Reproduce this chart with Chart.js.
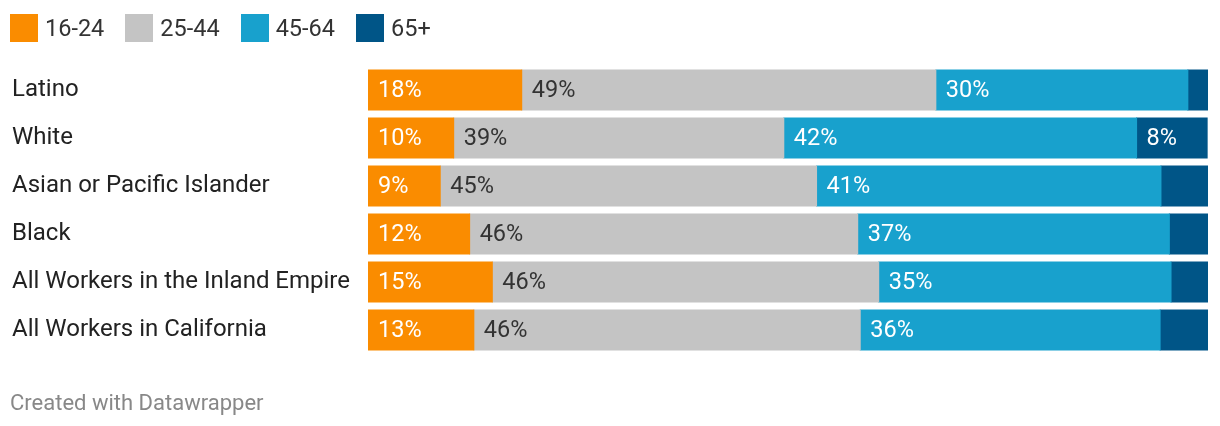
<!DOCTYPE html>
<html>
<head>
<meta charset="utf-8">
<script src="https://cdn.jsdelivr.net/npm/chart.js@4"></script>
<style>
  body { margin: 0; background: #fff; font-family: Roboto, "Noto Sans", sans-serif; }
  #wrap { position: relative; width: 1220px; height: 426px; }
  #chart { position: absolute; left: 0; top: 0; }
  #legend { position: absolute; left: 10px; top: 14px; display: flex; align-items: center; }
  .item { display: flex; align-items: center; margin-right: 21px; font-size: 23.5px; color: #333; line-height: 28px; }
  .swatch { width: 28px; height: 28px; margin-right: 7px; }
  #footer { position: absolute; left: 10px; top: 392px; font-size: 22px; line-height: 22px; color: #888; }
</style>
</head>
<body>
<div id="wrap">
  <canvas id="chart" width="1220" height="426"></canvas>
  <div id="legend"></div>
  <div id="footer">Created with Datawrapper</div>
</div>
<script>
const categories = [
  "Latino",
  "White",
  "Asian or Pacific Islander",
  "Black",
  "All Workers in the Inland Empire",
  "All Workers in California",
];
const seriesNames = ["16-24", "25-44", "45-64", "65+"];
const age16to24 = [18.3, 10.2, 8.6, 12.1, 14.8, 12.6];
const age25to44 = [49.3, 39.3, 44.8, 46.2, 46.0, 46.0];
const age45to64 = [30.0, 42.0, 41.0, 37.1, 34.8, 35.7];
const age65plus = [2.4, 8.4, 5.6, 4.6, 4.4, 5.7];

const colors = ["#fa8c00", "#c4c4c4", "#18a1cd", "#005587"];
const labelColors = ["#ffffff", "#333333", "#ffffff", "#ffffff"];
const allSeries = [age16to24, age25to44, age45to64, age65plus];

// html legend, same look as datawrapper
const legendEl = document.getElementById("legend");
legendEl.innerHTML = seriesNames
  .map((name, i) => `<div class="item"><span class="swatch" style="background:${colors[i]}"></span>${name}</div>`)
  .join("");

const valueLabels = {
  id: "valueLabels",
  afterDatasetsDraw(chart) {
    const ctx = chart.ctx;
    ctx.save();
    ctx.font = "23.5px Roboto, 'Noto Sans', sans-serif";
    ctx.textBaseline = "middle";
    ctx.textAlign = "left";
    chart.data.datasets.forEach((ds, di) => {
      const meta = chart.getDatasetMeta(di);
      meta.data.forEach((bar, i) => {
        const v = ds.data[i];
        if (v < 7) return;
        ctx.fillStyle = labelColors[di];
        ctx.fillText(Math.round(v) + "%", Math.min(bar.base, bar.x) + 10, bar.y + 1);
      });
    });
    ctx.restore();
  },
};

new Chart(document.getElementById("chart"), {
  type: "bar",
  data: {
    labels: categories,
    datasets: allSeries.map((data, i) => ({
      label: seriesNames[i],
      data,
      backgroundColor: colors[i],
      borderWidth: 0,
      inflateAmount: 0.5,
      barPercentage: 1,
      categoryPercentage: 40 / 48,
    })),
  },
  options: {
    indexAxis: "y",
    responsive: false,
    animation: false,
    devicePixelRatio: 1,
    layout: { padding: { top: 66, bottom: 72, left: 12, right: 12 } },
    plugins: {
      legend: { display: false },
      tooltip: { enabled: false },
    },
    scales: {
      x: {
        stacked: true,
        display: false,
        min: 0,
        max: 100,
      },
      y: {
        stacked: true,
        grid: { display: false },
        border: { display: false },
        afterFit(scale) { scale.width = 356; },
        ticks: {
          crossAlign: "far",
          color: "#222",
          font: { family: "Roboto, 'Noto Sans', sans-serif", size: 24 },
        },
      },
    },
  },
  plugins: [valueLabels],
});
</script>
</body>
</html>
